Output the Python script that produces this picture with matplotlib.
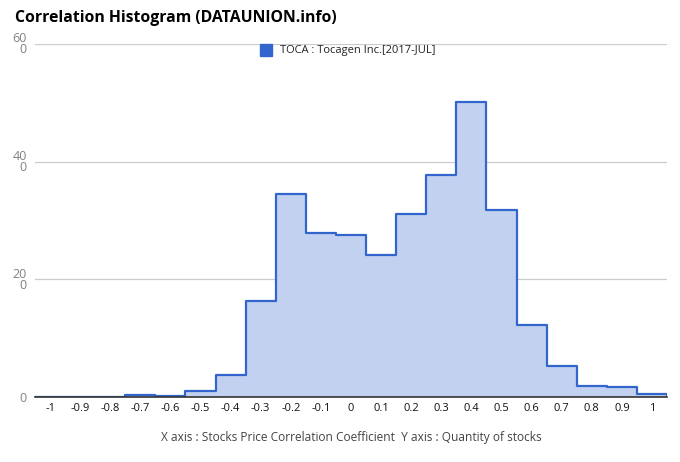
import numpy as np
import matplotlib
matplotlib.use("Agg")
import matplotlib.pyplot as plt

# correlation bins (centers) and quantity of stocks
bin_centers = [-1.0, -0.9, -0.8, -0.7, -0.6, -0.5, -0.4, -0.3, -0.2, -0.1, 0.0,
               0.1, 0.2, 0.3, 0.4, 0.5, 0.6, 0.7, 0.8, 0.9, 1.0]
counts = [0, 0, 0, 3, 1, 11, 38, 163, 345, 279, 276,
          241, 311, 378, 502, 317, 123, 52, 19, 17, 5]
x_ticks = [-1, -0.9, -0.8, -0.7, -0.6, -0.5, -0.4, -0.3, -0.2, -0.1, 0,
           0.1, 0.2, 0.3, 0.4, 0.5, 0.6, 0.7, 0.8, 0.9, 1]
y_ticks = [0, 200, 400, 600]
y_labels = ["0", "20\n0", "40\n0", "60\n0"]

plt.rcParams['font.family'] = ['Open Sans', 'DejaVu Sans']

fig = plt.figure(figsize=(6.8, 4.62), dpi=100)
ax = fig.add_axes([35 / 680, 65 / 462, 632 / 680, 353 / 462])

centers = np.array(bin_centers)
edges = np.append(centers - 0.05, centers[-1] + 0.05)
ax.stairs(counts, edges, fill=True, color="#c2d1f0", zorder=2)
ax.stairs(counts, edges, color="#3366cc", linewidth=1.6, zorder=3,
          joinstyle="round")

ax.set_xlim(-1.05, 1.05)
ax.set_ylim(0, 600)

ax.set_yticks(y_ticks)
ax.set_yticklabels(y_labels, color="#808080", fontsize=9, linespacing=0.8)
ax.set_xticks(x_ticks)
ax.set_xticklabels([f"{t:g}" for t in x_ticks], fontsize=8, color="#111111")
ax.tick_params(axis="y", length=0, pad=6)
ax.tick_params(axis="x", length=0, pad=4)

for yv in y_ticks[1:]:
    ax.axhline(yv, color="#cccccc", linewidth=0.9, zorder=1)

for s in ["top", "right", "left"]:
    ax.spines[s].set_visible(False)
ax.spines["bottom"].set_color("#333333")
ax.spines["bottom"].set_linewidth(1.2)
ax.spines["bottom"].set_zorder(4)

fig.text(15 / 680, 1 - 18 / 462, "Correlation Histogram (DATAUNION.info)",
         fontsize=11.3, fontweight="bold", va="center", ha="left")

# legend
fig.patches.append(plt.Rectangle((260 / 680, 1 - 56 / 462), 12 / 680, 12 / 462,
                                 transform=fig.transFigure, color="#3366cc"))
fig.text(280 / 680, 1 - 50 / 462, "TOCA : Tocagen Inc.[2017-JUL]",
         fontsize=8, color="#222222", va="center", ha="left")

fig.text(351 / 680, 1 - 437 / 462,
         "X axis : Stocks Price Correlation Coefficient  Y axis : Quantity of stocks",
         fontsize=8.6, color="#444444", va="center", ha="center")

fig.savefig("out.png", dpi=100)
